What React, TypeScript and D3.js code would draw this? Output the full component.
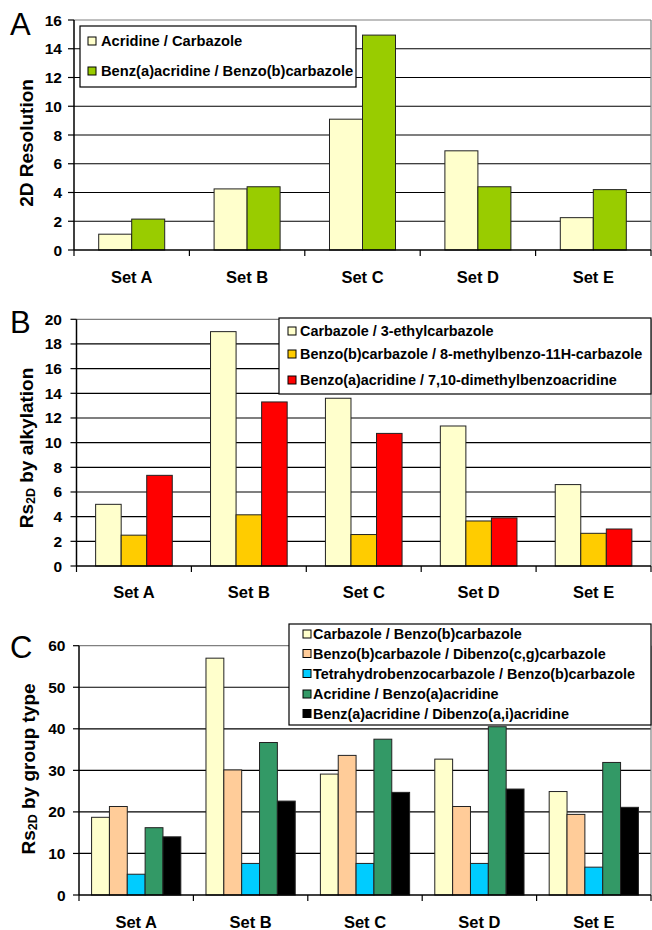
import React from "react";
import * as d3 from "d3";

const sets = ["Set A", "Set B", "Set C", "Set D", "Set E"];

// Panel A
const seriesA = ["Acridine / Carbazole", "Benz(a)acridine / Benzo(b)carbazole"];
const acridineCarbazole = [1.1, 4.25, 9.1, 6.9, 2.25];
const benzacridineBenzocarbazole = [2.15, 4.4, 14.95, 4.4, 4.2];
const ticksA = [0, 2, 4, 6, 8, 10, 12, 14, 16];

// Panel B
const seriesB = [
  "Carbazole / 3-ethylcarbazole",
  "Benzo(b)carbazole / 8-methylbenzo-11H-carbazole",
  "Benzo(a)acridine / 7,10-dimethylbenzoacridine",
];
const carbazoleEthyl = [5.0, 19.0, 13.6, 11.35, 6.6];
const benzocarbazoleMethyl = [2.5, 4.15, 2.55, 3.65, 2.65];
const benzoacridineDimethyl = [7.35, 13.3, 10.75, 3.9, 3.0];
const ticksB = [0, 2, 4, 6, 8, 10, 12, 14, 16, 18, 20];

// Panel C
const seriesC = [
  "Carbazole / Benzo(b)carbazole",
  "Benzo(b)carbazole / Dibenzo(c,g)carbazole",
  "Tetrahydrobenzocarbazole / Benzo(b)carbazole",
  "Acridine / Benzo(a)acridine",
  "Benz(a)acridine / Dibenzo(a,i)acridine",
];
const carbazoleBenzo = [18.7, 57.0, 29.1, 32.7, 24.9];
const benzoDibenzoCarb = [21.3, 30.1, 33.6, 21.3, 19.4];
const tetrahydro = [5.0, 7.6, 7.6, 7.6, 6.7];
const acridineBenzo = [16.2, 36.7, 37.5, 40.5, 31.9];
const benzDibenzoAcr = [14.0, 22.6, 24.7, 25.5, 21.1];
const ticksC = [0, 10, 20, 30, 40, 50, 60];

const FONT = "'Liberation Sans', Arial, sans-serif";

type PanelCfg = {
  letter: string;
  letterY: number;
  x0: number;
  x1: number;
  yTop: number;
  yZero: number;
  max: number;
  ticks: number[];
  tickRight: number;
  groupFrac: number;
  series: string[];
  values: number[][];
  colors: string[];
  title: string;
  sub?: string;
  titleRest?: string;
  titleX: number;
  titleY: number;
  legend: { x: number; y: number; w: number; h: number; rowY: number[]; swX: number; txX: number; fs: number };
  catY: number;
};

function Panel({ c }: { c: PanelCfg }) {
  const x = d3.scaleBand<string>().domain(sets).range([c.x0, c.x1]).paddingInner(0).paddingOuter(0);
  const y = d3.scaleLinear().domain([0, c.max]).range([c.yZero, c.yTop]);
  const gw = x.bandwidth() * c.groupFrac;
  const inner = d3.scaleBand<number>().domain(c.series.map((_, i) => i)).range([0, gw]);
  const bounds = [...sets.map((s) => x(s) as number), c.x1];
  return (
    <g>
      <text x={10} y={c.letterY} fontFamily={FONT} fontSize={31}>{c.letter}</text>
      {c.ticks.filter((t) => t > 0).map((t) => (
        <line key={t} x1={c.x0} x2={c.x1} y1={y(t)} y2={y(t)} stroke={t === c.max ? "#808080" : "#000"} strokeWidth={1.2} />
      ))}
      <line x1={c.x1} x2={c.x1} y1={c.yTop} y2={c.yZero} stroke="#808080" strokeWidth={1.2} />
      {sets.map((s, si) => (
        <g key={s}>
          {c.series.map((_, k) => {
            const v = c.values[k][si];
            const bx = (x(s) as number) + (x.bandwidth() - gw) / 2 + (inner(k) as number);
            return (
              <rect key={k} x={bx} y={y(v)} width={inner.bandwidth()} height={c.yZero - y(v)} fill={c.colors[k]} stroke="#222" strokeWidth={1} />
            );
          })}
        </g>
      ))}
      <line x1={c.x0} x2={c.x0} y1={c.yTop} y2={c.yZero} stroke="#000" strokeWidth={1.5} />
      <line x1={c.x0} x2={c.x1} y1={c.yZero} y2={c.yZero} stroke="#000" strokeWidth={1.5} />
      {c.ticks.map((t) => (
        <g key={t}>
          <line x1={c.x0 - 6} x2={c.x0} y1={y(t)} y2={y(t)} stroke="#000" strokeWidth={1.2} />
          <text x={c.tickRight} y={y(t) + 5.5} textAnchor="end" fontFamily={FONT} fontWeight="bold" fontSize={15.5}>{t}</text>
        </g>
      ))}
      {bounds.map((b, i) => (
        <line key={i} x1={b} x2={b} y1={c.yZero} y2={c.yZero + 6} stroke="#000" strokeWidth={1.2} />
      ))}
      {sets.map((s) => (
        <text key={s} x={(x(s) as number) + x.bandwidth() / 2} y={c.catY} textAnchor="middle" fontFamily={FONT} fontWeight="bold" fontSize={16.5}>{s}</text>
      ))}
      <text transform={`translate(${c.titleX},${c.titleY}) rotate(-90)`} textAnchor="middle" fontFamily={FONT} fontWeight="bold" fontSize={19}>
        {c.sub ? (
          <>
            <tspan>{c.title}</tspan>
            <tspan fontSize={12.5} dy={2}>{c.sub}</tspan>
            <tspan dy={-2}>{c.titleRest}</tspan>
          </>
        ) : (
          c.title
        )}
      </text>
      <rect x={c.legend.x} y={c.legend.y} width={c.legend.w} height={c.legend.h} fill="#fff" stroke="#000" strokeWidth={1.2} />
      {c.series.map((name, k) => (
        <g key={name}>
          <rect x={c.legend.swX} y={c.legend.rowY[k] - 4} width={8} height={8} fill={c.colors[k]} stroke="#000" strokeWidth={1} />
          <text x={c.legend.txX} y={c.legend.rowY[k] + c.legend.fs * 0.36} fontFamily={FONT} fontWeight="bold" fontSize={c.legend.fs}>{name}</text>
        </g>
      ))}
    </g>
  );
}

export default function App() {
  const panels: PanelCfg[] = [
    {
      letter: "A", letterY: 35, x0: 74, x1: 651, yTop: 20, yZero: 250, max: 16, ticks: ticksA, tickRight: 62,
      groupFrac: 0.572, series: seriesA, values: [acridineCarbazole, benzacridineBenzocarbazole],
      colors: ["#FFFFCC", "#99CC00"], title: "2D Resolution", titleX: 33, titleY: 143,
      legend: { x: 80, y: 26, w: 276, h: 61, rowY: [41, 71], swX: 88, txX: 101, fs: 14.7 }, catY: 283,
    },
    {
      letter: "B", letterY: 333, x0: 76.5, x1: 651, yTop: 319.3, yZero: 566, max: 20, ticks: ticksB, tickRight: 62,
      groupFrac: 0.667, series: seriesB, values: [carbazoleEthyl, benzocarbazoleMethyl, benzoacridineDimethyl],
      colors: ["#FFFFCC", "#FFCC00", "#FF0000"], title: "Rs", sub: "2D", titleRest: " by alkylation", titleX: 33, titleY: 448,
      legend: { x: 279, y: 318, w: 372, h: 76, rowY: [331, 354, 380], swX: 288, txX: 300, fs: 14.4 }, catY: 598,
    },
    {
      letter: "C", letterY: 658, x0: 79, x1: 651, yTop: 645.7, yZero: 895, max: 60, ticks: ticksC, tickRight: 65.5,
      groupFrac: 0.78, series: seriesC, values: [carbazoleBenzo, benzoDibenzoCarb, tetrahydro, acridineBenzo, benzDibenzoAcr],
      colors: ["#FFFFCC", "#FFCC99", "#00CCFF", "#339966", "#000000"], title: "Rs", sub: "2D", titleRest: " by group type", titleX: 35, titleY: 769,
      legend: { x: 289, y: 624, w: 362, h: 101, rowY: [634, 653.5, 673.5, 694, 713.5], swX: 303, txX: 313, fs: 14.4 }, catY: 928,
    },
  ];
  return (
    <svg width={652} height={930} style={{ position: "absolute", left: 0, top: 0, background: "#fff" }}>
      <rect width={652} height={930} fill="#fff" />
      {panels.map((p) => (
        <Panel key={p.letter} c={p} />
      ))}
    </svg>
  );
}
